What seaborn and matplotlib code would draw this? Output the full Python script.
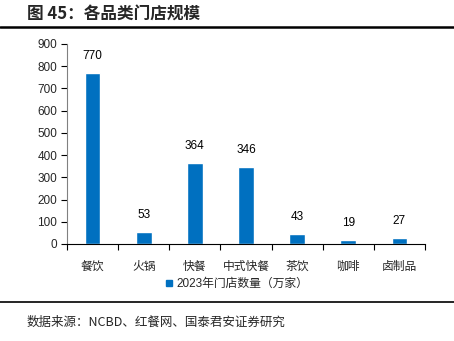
import matplotlib
matplotlib.use("Agg")
import matplotlib.pyplot as plt
import seaborn as sns
import pandas as pd
from matplotlib.lines import Line2D

categories = ["餐饮", "火锅", "快餐", "中式快餐", "茶饮", "咖啡", "卤制品"]
values = [770, 53, 364, 346, 43, 19, 27]
series_name = "2023年门店数量（万家）"
yticks = [0, 100, 200, 300, 400, 500, 600, 700, 800, 900]

sns.set_theme(style="white")
plt.rcParams['font.family'] = ['Liberation Sans', 'Noto Sans CJK SC', 'DejaVu Sans']

df = pd.DataFrame({"cat": categories, "val": values, "series": series_name})

fig = plt.figure(figsize=(4.54, 3.41), dpi=100)
ax = fig.add_axes([67/454, 1-244/341, (425-67)/454, (244-44)/341])
color = "#0070C0"
sns.barplot(data=df, x="cat", y="val", hue="series", palette=[color], width=0.31,
            ax=ax, legend=False, saturation=1)

for i, v in enumerate(values):
    ax.annotate(str(v), (i, v), xytext=(0, 8), textcoords="offset points",
                ha="center", va="bottom", fontsize=8.5, color="black")

ax.set_xlim(-0.5, 6.5)
ax.set_ylim(0, 900)
ax.set_yticks(yticks)
ax.set_yticklabels([str(t) for t in yticks], fontsize=8.5)
ax.set_xticks(range(len(categories)))
ax.set_xticklabels(categories, fontsize=8.5)
ax.set_xticks([i - 0.5 for i in range(len(categories) + 1)], minor=True)
ax.tick_params(axis="x", which="major", length=0, pad=12)
ax.tick_params(axis="x", which="minor", length=4, width=0.8, direction="out", color="black", bottom=True)
ax.tick_params(axis="y", which="major", length=4, width=0.8, direction="out", color="black", left=True, pad=3)
ax.set_xlabel("")
ax.set_ylabel("")
for s in ["top", "right"]:
    ax.spines[s].set_visible(False)
for s in ["left", "bottom"]:
    ax.spines[s].set_color("black")
    ax.spines[s].set_linewidth(0.8)
ax.spines["left"].set_color("#808080")

handle = Line2D([], [], marker="s", color=color, linestyle="none", markersize=5)
fig.legend([handle], [series_name], loc="center", bbox_to_anchor=(236/454, 1-284/341),
           frameon=False, fontsize=8.5, handletextpad=0.2, handlelength=0.8)

fig.text(27/454, 1-15/341, "图 45：各品类门店规模", fontsize=12, fontweight="bold",
         family=['Noto Sans CJK SC'], va="center", ha="left")
fig.add_artist(Line2D([0, 1], [1-27/341, 1-27/341], color="black", linewidth=1.8, transform=fig.transFigure))
fig.add_artist(Line2D([0, 1], [1-302/341, 1-302/341], color="black", linewidth=1.2, transform=fig.transFigure))
fig.text(27/454, 1-322/341, "数据来源：NCBD、红餐网、国泰君安证券研究", fontsize=9,
         family=['Noto Sans CJK SC'], va="center", ha="left")

fig.savefig("out.png", dpi=100)
